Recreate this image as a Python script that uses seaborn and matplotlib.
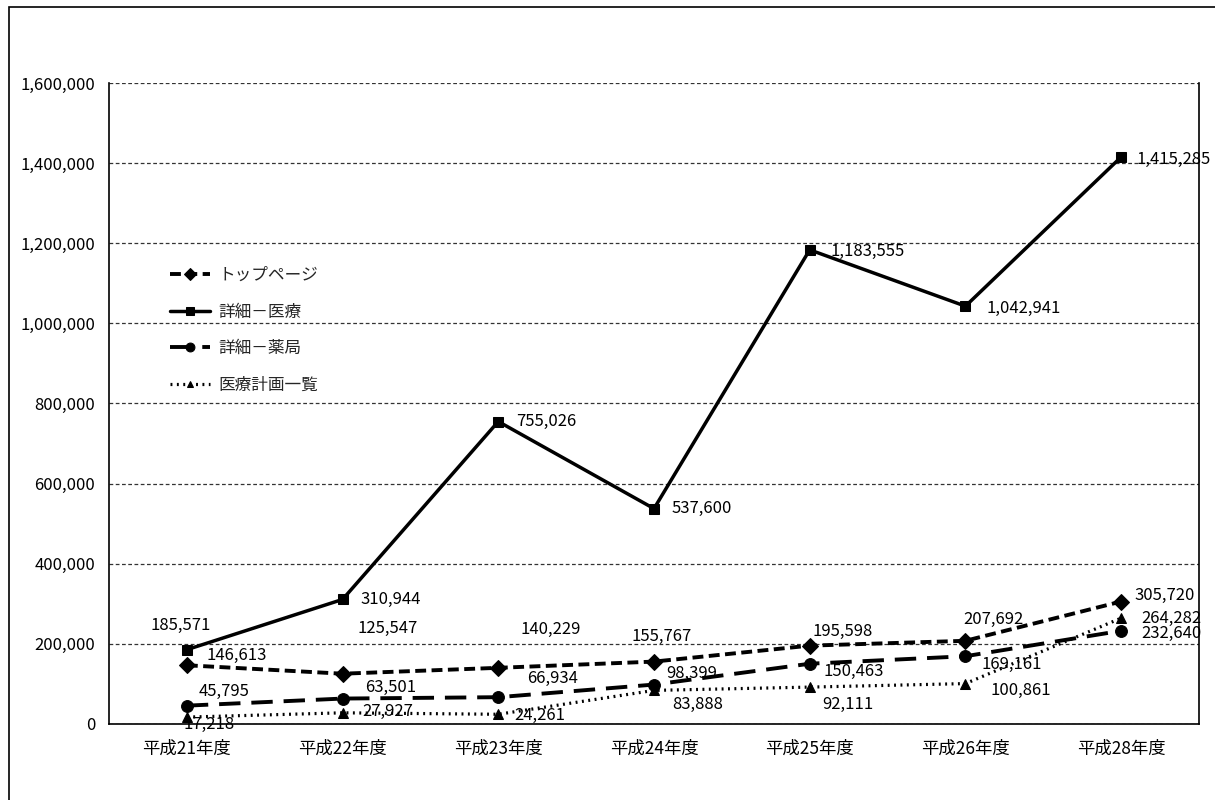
import matplotlib
matplotlib.use("Agg")
import matplotlib.pyplot as plt
import seaborn as sns
import pandas as pd
from matplotlib.patches import Rectangle
from matplotlib.ticker import FuncFormatter, MultipleLocator

categories = ["平成21年度", "平成22年度", "平成23年度", "平成24年度", "平成25年度", "平成26年度", "平成28年度"]
top_page = [146613, 125547, 140229, 155767, 195598, 207692, 305720]
detail_medical = [185571, 310944, 755026, 537600, 1183555, 1042941, 1415285]
detail_pharmacy = [45795, 63501, 66934, 98399, 150463, 169161, 232640]
plan_list = [17218, 27927, 24261, 83888, 92111, 100861, 264282]
series_names = ["トップページ", "詳細－医療", "詳細－薬局", "医療計画一覧"]

sns.set_theme(style="white")
plt.rcParams["font.family"] = ["Noto Sans CJK JP", "DejaVu Sans"]

fig = plt.figure(figsize=(12.15, 8.0), dpi=100)
ax = fig.add_axes([109/1215, 1-724/800, (1199-109)/1215, (724-83)/800])

series = [top_page, detail_medical, detail_pharmacy, plan_list]
styles = [
    dict(marker="D", dashes=(2.8, 1.4), lw=2.8, ms=8),
    dict(marker="s", dashes=None, lw=2.5, ms=7.5),
    dict(marker="o", dashes=(5.5, 2.8), lw=2.8, ms=8.5),
    dict(marker="^", dashes=(0.6, 1.4), lw=2.3, ms=6.5),
]
# label offsets in pixels (dx, dy) relative to point, per series
offsets = [
    [(50, 10), (45, 45), (52, 38), (8, 25), (33, 14), (28, 21), (44, 6)],
    [(-6, 24), (48, 0), (48, 0), (48, 0), (58, -2), (58, -2), (52, -2)],
    [(37, 14), (48, 11), (54, 19), (38, 11), (44, -8), (46, -8), (50, -3)],
    [(22, -7), (45, 1), (42, -1), (44, -14), (38, -17), (55, -7), (50, 0)],
]

for name, vals, st, offs in zip(series_names, series, styles, offsets):
    df = pd.DataFrame({"x": categories, "y": vals})
    sns.lineplot(data=df, x="x", y="y", ax=ax, color="black", marker=st["marker"],
                 markersize=st["ms"], linewidth=st["lw"], label=name,
                 markeredgecolor="black", sort=False)
    l = ax.lines[-1]
    if st["dashes"] is not None:
        l.set_dashes(st["dashes"])
    for i, v in enumerate(vals):
        ax.annotate(f"{v:,}", (i, v), xytext=(offs[i][0], offs[i][1]), textcoords="offset pixels",
                    ha="center", va="center", fontsize=12, color="black", zorder=5)

ax.set_xlim(-0.5, 6.5)
ax.set_ylim(0, 1600000)
ax.yaxis.set_major_locator(MultipleLocator(200000))
ax.yaxis.set_major_formatter(FuncFormatter(lambda v, p: f"{int(v):,}"))
ax.grid(axis="y", color="#333333", linestyle=(0, (3, 2)), linewidth=0.9)
ax.grid(axis="x", visible=False)
ax.set_axisbelow(True)
ax.set_xlabel("")
ax.set_ylabel("")
ax.tick_params(axis="both", length=0, colors="black")
ax.tick_params(axis="y", pad=10, labelsize=12)
ax.tick_params(axis="x", pad=11, labelsize=12.5)
for s in ["left", "bottom", "right"]:
    ax.spines[s].set_color("black")
    ax.spines[s].set_linewidth(1.2)
ax.spines["top"].set_visible(False)

leg = ax.legend(loc="upper left", bbox_to_anchor=(0.05, 0.723), frameon=False, fontsize=12,
                handlelength=2.4, labelspacing=1.17, handletextpad=0.5, borderaxespad=0,
                markerscale=0.75)

fig.patches.append(Rectangle((9/1215, -0.1), 1.2, 1-7/800+0.1, transform=fig.transFigure,
                             fill=False, edgecolor="black", linewidth=1.2))

fig.savefig("out.png", dpi=100)
